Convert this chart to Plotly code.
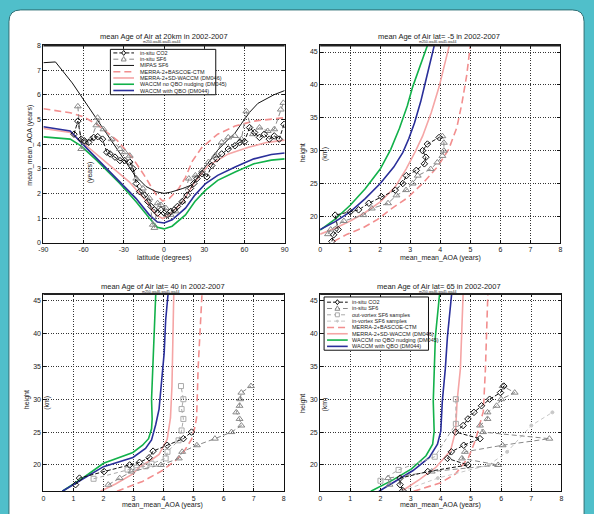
import plotly.graph_objects as go

W, H = 594, 514
FONT = "Liberation Sans, Arial, sans-serif"

# ---------------- Panel 1: mean AoA at 20 km vs latitude ----------------
lat_mipas = [-90, -81, -68.5, -60, -50, -40, -30, -22, -13.5, -6, 0, 5, 14, 21, 28, 34, 40, 48, 53, 58, 64, 70, 75, 82, 90]
age_mipas = [7.3, 7.33, 6.48, 5.8, 5.0, 4.2, 3.4, 2.75, 2.28, 2.07, 2.0, 2.05, 2.2, 2.35, 2.88, 3.3, 3.75, 4.2, 4.45, 4.85, 5.3, 5.65, 5.81, 6.0, 6.17]

lat_ctm = [-90, -70, -60, -50, -35, -23, -15, -6, -1, 4, 11, 16, 21, 28, 40, 53, 67, 78, 90]
age_ctm = [5.43, 5.27, 5.1, 4.8, 4.15, 3.4, 2.75, 1.95, 1.69, 1.8, 2.2, 2.65, 3.3, 3.85, 4.4, 4.73, 4.93, 5.0, 5.07]

lat_sdw = [-90, -70, -55, -40, -26, -13, -6, -1, 4, 14, 23, 33, 48, 63, 77, 90]
age_sdw = [4.63, 4.47, 3.8, 3.13, 2.47, 1.67, 1.13, 0.98, 1.13, 1.67, 2.47, 3.13, 3.6, 3.87, 4.07, 4.16]

lat_noqbo = [-90, -70, -62, -50, -33, -21, -11, -5, 0, 6, 16, 23, 31, 40, 53, 67, 80, 90]
age_noqbo = [4.29, 4.2, 3.93, 3.33, 2.4, 1.67, 1.0, 0.63, 0.56, 0.67, 1.13, 1.67, 2.13, 2.53, 2.87, 3.2, 3.35, 3.4]

lat_qbo = [-90, -70, -62, -50, -33, -21, -11, -5, 0, 6, 16, 23, 31, 40, 53, 67, 80, 90]
age_qbo = [4.7, 4.53, 4.07, 3.4, 2.47, 1.8, 1.13, 0.84, 0.8, 0.93, 1.4, 1.93, 2.4, 2.73, 3.07, 3.4, 3.58, 3.64]

lat_co2 = [-67.2, -64.3, -61.8, -59.4, -56.2, -52.5, -49.5, -45.9, -42.7, -40.3, -36.6, -32.9, -29.3, -25.6, -23.1,
           -20.7, -18.2, -14.6, -12.1, -9.7, -7.2, -4.8, -2.3, 0.1, 2.6, 5, 7.5, 10, 13.6, 17.3, 19.7, 22.2, 24.6,
           28.3, 32, 35.6, 39.3, 43, 47.9, 52.8, 56.5, 60, 63.8, 67.5, 71.2, 74.8, 78.5, 82.2, 85.9, 89.5]
age_co2 = [4.4, 4.93, 4.2, 4.13, 4.07, 4.27, 4.3, 4.2, 3.67, 3.6, 3.47, 3.33, 3.33, 3.27, 3.0,
           2.4, 2.07, 1.93, 1.67, 1.47, 1.33, 1.2, 1.33, 1.2, 1.13, 1.27, 1.33, 1.47, 1.67, 1.93, 2.2, 2.4, 2.6,
           2.8, 2.67, 3.13, 3.4, 3.6, 3.8, 3.93, 4.07, 4.1, 4.67, 4.47, 4.27, 4.4, 4.2, 4.33, 4.2, 4.8]

lat_sf6 = [-64.3, -61.8, -58.7, -54.5, -50.5, -49.6, -45.2, -39.1, -32.9, -29.3, -25.6, -20.7, -15.8, -10.9, -8.4,
           -7.2, -4.8, -2.3, 1.4, 5, 8.7, 13.6, 18.5, 23.4, 28.3, 33.2, 38.1, 43, 47.9, 52.8, 57.7, 61.4, 66.3,
           71.2, 77.3, 82.2, 87.1, 89]
age_sf6 = [5.53, 3.8, 4.07, 4.2, 4.76, 5.07, 4.6, 4.2, 3.8, 3.67, 3.53, 2.6, 2.2, 1.8, 0.73,
           0.6, 1.6, 1.53, 1.4, 1.13, 1.27, 1.67, 2.6, 2.73, 2.93, 3.27, 3.53, 4.07, 4.27, 4.33, 4.2, 5.33, 4.4,
           4.67, 4.53, 4.6, 5.4, 5.67]

# ---------------- Panel 2: profiles at lat = -5 ----------------
h2_co2 = [16.2, 17.2, 18, 20.2, 20.7, 21, 22, 23, 24, 25, 26.2, 27, 28, 29, 30, 31, 32]
a2_co2 = [0.39, 0.45, 0.6, 0.5, 1.0, 1.28, 1.62, 2.04, 2.5, 2.75, 2.87, 3.2, 3.47, 3.52, 3.41, 3.57, 3.96]
h2_sf6 = [17.3, 18, 19.3, 20.2, 21.2, 22, 23.2, 24, 25, 26.2, 27.2, 28.2, 29.2, 30, 31.2, 32.2]
a2_sf6 = [0.26, 0.35, 0.79, 1.44, 1.72, 2.26, 2.54, 2.86, 3.08, 3.25, 3.68, 3.9, 4.07, 4.12, 4.12, 4.07]
h2_noqbo = [17.9, 19.6, 21.7, 24.2, 27.2, 30.2, 33.4, 36.8, 39.7, 43.0, 46]
a2_noqbo = [0, 0.5, 1.0, 1.5, 2.0, 2.35, 2.64, 2.9, 3.08, 3.35, 3.57]
h2_qbo = [18, 19.2, 20.7, 22.7, 25, 27.5, 29.7, 31.8, 34.2, 37.5, 40.7, 43.8, 46]
a2_qbo = [0, 0.5, 1.0, 1.5, 2.0, 2.45, 2.75, 2.95, 3.14, 3.35, 3.52, 3.68, 3.8]
h2_sdw = [17.3, 18.2, 19.3, 20.6, 22.2, 24.5, 27.2, 29.7, 32.2, 35.8, 39.7, 43.0, 46]
a2_sdw = [0, 0.5, 1.0, 1.5, 2.0, 2.5, 2.86, 3.15, 3.41, 3.7, 3.96, 4.15, 4.3]
h2_ctm = [16.2, 17.3, 18.3, 19.5, 21, 22.8, 25, 27.5, 30.2, 33.5, 37.2, 41.5, 46]
a2_ctm = [0.45, 0.9, 1.44, 1.9, 2.32, 2.9, 3.41, 3.9, 4.28, 4.55, 4.72, 4.88, 5.0]

# ---------------- Panel 3: profiles at lat = 40 ----------------
h3_co2 = [17, 18, 19, 20, 20.4, 21.1, 22.1, 23, 24, 25]
a3_co2 = [1.07, 1.2, 2.02, 2.87, 3.2, 3.52, 3.65, 4.12, 4.66, 4.93]
h3_sf6 = [17, 18, 19, 20, 21, 22, 23, 24, 25, 26, 27, 28, 29, 30, 31, 32]
a3_sf6 = [2.16, 2.54, 2.93, 3.91, 4.51, 4.62, 5.11, 5.71, 6.26, 6.59, 6.53, 6.42, 6.53, 6.55, 6.59, 6.91]
h3_out = [17.9, 19.3, 19.6, 19.8, 20.2, 21, 22, 23.75, 25.25, 27, 28.5, 30, 32]
a3_out = [1.67, 2.8, 3.1, 3.4, 3.6, 4.07, 4.13, 4.5, 4.6, 4.66, 4.6, 4.66, 4.58]
h3_noqbo = [16, 18.1, 20.25, 21.9, 23, 24, 25.5, 27, 30, 34, 40, 46]
a3_noqbo = [0.63, 1.34, 2.0, 2.98, 3.3, 3.5, 3.6, 3.62, 3.6, 3.64, 3.69, 3.74]
h3_qbo = [16, 17.9, 19.75, 21.15, 22.5, 23.8, 26.15, 28.5, 33.5, 37, 42, 46]
a3_qbo = [0.63, 1.34, 2.0, 2.98, 3.4, 3.6, 3.74, 3.85, 3.96, 4.02, 4.07, 4.15]
h3_sdw = [16, 17.1, 18.65, 19.7, 20.8, 21.6, 23.9, 27.15, 32, 38, 46]
a3_sdw = [1.9, 2.4, 2.98, 3.2, 3.6, 3.85, 4.12, 4.23, 4.28, 4.3, 4.34]
h3_ctm = [16, 17.5, 19.15, 20.7, 21.9, 23.9, 25.5, 27.15, 34.65, 40, 46]
a3_ctm = [2.45, 3.3, 3.96, 4.4, 4.66, 4.93, 5.03, 5.1, 5.15, 5.2, 5.28]

# ---------------- Panel 4: profiles at lat = 65 ----------------
h4_co2 = [16.1, 17, 18, 19, 20, 21, 22, 23, 24, 25, 26, 27, 28, 29, 30, 31, 32]
a4_co2 = [2.74, 2.65, 2.65, 3.57, 4.9, 4.22, 4.35, 4.76, 5.3, 4.49, 4.74, 4.9, 5.1, 5.35, 5.62, 5.98, 6.09]
h4_sf6 = [17, 18, 19, 20, 21, 22, 23, 24, 25, 26, 27, 28, 29, 30, 31, 32]
a4_sf6 = [2.3, 2.25, 3.7, 5.9, 4.7, 4.8, 6.05, 7.6, 5.4, 5.3, 5.55, 5.55, 5.85, 6.0, 6.45, 6.05]
h4_out = [17.6, 19.25, 21.25, 26.25, 30]
a4_out = [2.0, 2.6, 3.8, 4.5, 4.5]
h4_in = [16, 18, 20, 22, 26, 28]
a4_in = [2.7, 3.9, 5.6, 6.2, 7.0, 7.7]
h4_noqbo = [16, 17.7, 19.4, 21.4, 23.15, 25.15, 29.65, 34.65, 39.5, 46]
a4_noqbo = [1.68, 2.4, 3.03, 3.51, 3.73, 3.78, 3.75, 3.78, 3.82, 3.96]
h4_qbo = [16, 19.15, 21.15, 23.15, 25.15, 29.65, 34.65, 39.5, 46]
a4_qbo = [1.95, 3.08, 3.62, 3.89, 4.0, 4.05, 4.15, 4.22, 4.36]
h4_sdw = [16, 17.8, 19.65, 22.15, 25.15, 29.65, 34.65, 40, 46]
a4_sdw = [2.7, 3.3, 3.84, 4.32, 4.49, 4.54, 4.65, 4.7, 4.74]
h4_ctm = [16, 17.3, 18.65, 21.15, 23.65, 28.15, 34.65, 40, 46]
a4_ctm = [3.1, 4.0, 4.49, 4.92, 5.14, 5.41, 5.48, 5.52, 5.56]

# ---------------- text ----------------
titles = ["mean Age of Air at 20km in 2002-2007", "mean Age of Air lat= -5 in 2002-2007",
          "mean Age of Air lat= 40 in 2002-2007", "mean Age of Air lat= 65 in 2002-2007"]
subtitle = "m250-wa46-wa45-wa44"
lat_ticks = [-90, -60, -30, 0, 30, 60, 90]
lat_ticktext = ["-90", "-60", "-30", "0", "30", "60", "90"]
age_ticks = [0, 1, 2, 3, 4, 5, 6, 7, 8]
h_ticks = [20, 25, 30, 35, 40, 45]
legend1_keys = ["co2", "sf6", "mipas", "ctm", "sdw", "noqbo", "qbo"]
legend4_keys = ["co2", "sf6", "out", "in", "ctm", "sdw", "noqbo", "qbo"]
labels = {"co2": "in-situ CO2", "sf6": "in-situ SF6", "mipas": "MIPAS SF6",
          "out": "out-vortex SF6 samples", "in": "in-vortex SF6 samples",
          "ctm": "MERRA-2+BASCOE-CTM", "sdw": "MERRA-2+SD-WACCM (DM046)",
          "noqbo": "WACCM no QBO nudging (DM045)", "qbo": "WACCM with QBO (DM044)"}

# ---------------- styles ----------------
PINK_D = "#F28E8E"
PINK_S = "#F5A5A5"
GREEN = "#12B14A"
BLUE = "#2A2F9A"
styles = {
    "co2": dict(color="#111111", dash="4px,2px", width=1, symbol="diamond-open", msize=5),
    "sf6": dict(color="#888888", dash="5px,3px", width=1, symbol="triangle-up-open", msize=6),
    "mipas": dict(color="#111111", dash="solid", width=1, symbol=None, msize=0),
    "out": dict(color="#AAAAAA", dash="4px,3px", width=1, symbol="square-open", msize=5),
    "in": dict(color="#C8C8C8", dash="4px,3px", width=1, symbol="circle", msize=3),
    "ctm": dict(color=PINK_D, dash="7px,4px", width=1.6, symbol=None, msize=0),
    "sdw": dict(color=PINK_S, dash="solid", width=1.6, symbol=None, msize=0),
    "noqbo": dict(color=GREEN, dash="solid", width=1.6, symbol=None, msize=0),
    "qbo": dict(color=BLUE, dash="solid", width=1.6, symbol=None, msize=0),
}


def px2x(px):
    return px / W


def px2y(py):
    return 1 - py / H


fig = go.Figure()


def add(key, x, y, ax):
    s = styles[key]
    mode = "lines+markers" if s["symbol"] else "lines"
    kw = dict(x=x, y=y, mode=mode, showlegend=False, name=labels[key],
              line=dict(color=s["color"], dash=s["dash"], width=s["width"]),
              xaxis="x" + ax, yaxis="y" + ax)
    if s["symbol"]:
        kw["marker"] = dict(symbol=s["symbol"], size=s["msize"], color=s["color"],
                            line=dict(color=s["color"], width=1))
    fig.add_trace(go.Scatter(**kw))


# panel 1 (models first, observations on top)
add("ctm", lat_ctm, age_ctm, "")
add("sdw", lat_sdw, age_sdw, "")
add("noqbo", lat_noqbo, age_noqbo, "")
add("qbo", lat_qbo, age_qbo, "")
add("mipas", lat_mipas, age_mipas, "")
add("sf6", lat_sf6, age_sf6, "")
add("co2", lat_co2, age_co2, "")
# panel 2
add("ctm", a2_ctm, h2_ctm, "2")
add("sdw", a2_sdw, h2_sdw, "2")
add("noqbo", a2_noqbo, h2_noqbo, "2")
add("qbo", a2_qbo, h2_qbo, "2")
add("sf6", a2_sf6, h2_sf6, "2")
add("co2", a2_co2, h2_co2, "2")
# panel 3
add("ctm", a3_ctm, h3_ctm, "3")
add("sdw", a3_sdw, h3_sdw, "3")
add("noqbo", a3_noqbo, h3_noqbo, "3")
add("qbo", a3_qbo, h3_qbo, "3")
add("out", a3_out, h3_out, "3")
add("sf6", a3_sf6, h3_sf6, "3")
add("co2", a3_co2, h3_co2, "3")
# panel 4
add("ctm", a4_ctm, h4_ctm, "4")
add("sdw", a4_sdw, h4_sdw, "4")
add("noqbo", a4_noqbo, h4_noqbo, "4")
add("qbo", a4_qbo, h4_qbo, "4")
add("in", a4_in, h4_in, "4")
add("out", a4_out, h4_out, "4")
add("sf6", a4_sf6, h4_sf6, "4")
add("co2", a4_co2, h4_co2, "4")

# ---------------- axes ----------------
panels = {
    "": dict(x=(39, 284), y=(42, 242)),
    "2": dict(x=(320, 564), y=(42, 242)),
    "3": dict(x=(39, 283), y=(294, 494)),
    "4": dict(x=(320, 565), y=(294, 494)),
}
common = dict(showline=True, linecolor="#111111", linewidth=1, mirror="ticks",
              ticks="inside", ticklen=3, tickcolor="#111111",
              showgrid=True, gridcolor="#333333", gridwidth=1, griddash="1px,1.5px",
              zeroline=False, tickfont=dict(family=FONT, size=7, color="#222222"))
lay = {}
for key, p in panels.items():
    xd = [px2x(p["x"][0]), px2x(p["x"][1])]
    yd = [px2y(p["y"][1]), px2y(p["y"][0])]
    xa = dict(domain=xd, anchor="y" + key, **common)
    ya = dict(domain=yd, anchor="x" + key, **common)
    if key == "":
        xa.update(range=[-90, 90], tickvals=lat_ticks, ticktext=lat_ticktext)
        ya.update(range=[0, 8], tickvals=age_ticks)
    else:
        xa.update(range=[0, 8], tickvals=age_ticks)
        ya.update(range=[16, 46], tickvals=h_ticks)
    lay["xaxis" + key] = xa
    lay["yaxis" + key] = ya

# ---------------- frame and text ----------------
shapes = []
r = 12
x0, x1, y0 = 4, 588, 6
path = (f"M {px2x(x0)},{px2y(H + 5)} L {px2x(x0)},{px2y(y0 + r)} "
        f"Q {px2x(x0)},{px2y(y0)} {px2x(x0 + r)},{px2y(y0)} "
        f"L {px2x(x1 - r)},{px2y(y0)} Q {px2x(x1)},{px2y(y0)} {px2x(x1)},{px2y(y0 + r)} "
        f"L {px2x(x1)},{px2y(H + 5)} Z")
shapes.append(dict(type="path", path=path, xref="paper", yref="paper", layer="below",
                   fillcolor="white", line=dict(color="#2E6E74", width=1)))

# slightly heavier top frame lines, as in the reference
for key, p in panels.items():
    shapes.append(dict(type="line", xref="paper", yref="paper", layer="above",
                       x0=px2x(p["x"][0]), x1=px2x(p["x"][1]),
                       y0=px2y(p["y"][0]), y1=px2y(p["y"][0]),
                       line=dict(color="#222222", width=2)))

ann = []


def text(t, x, y, size=7, angle=0, color="#222222"):
    ann.append(dict(text=t, x=px2x(x), y=px2y(y), xref="paper", yref="paper",
                    showarrow=False, textangle=angle, xanchor="center", yanchor="middle",
                    font=dict(family=FONT, size=size, color=color)))


title_pos = [(161, 33), (441, 33), (160, 286), (441, 286)]
for t, (tx, ty) in zip(titles, title_pos):
    text(t, tx, ty, size=7.5)
    text(subtitle, tx - 2, ty + 6, size=3.5)

text("latitude (degrees)", 161, 257)
text("mean_mean_AOA (years)", 442, 257)
text("mean_mean_AOA (years)", 160, 508)
text("mean_mean_AOA (years)", 442, 508)
text("mean_mean_AOA (years)", 25, 143, angle=-90)
text("(years)", 86, 171, angle=-90)
text("height", 303, 151, angle=-90)
text("(km)", 325, 152, angle=-90)
text("height", 22, 401, angle=-90)
text("(km)", 43, 404, angle=-90)
text("height", 303, 405, angle=-90)
text("(km)", 325, 406, angle=-90)


def legend(keys, box, row0, step, samp, txt_x):
    bx0, by0, bx1, by1 = box
    shapes.append(dict(type="rect", xref="paper", yref="paper", layer="above",
                       x0=px2x(bx0), x1=px2x(bx1), y0=px2y(by1), y1=px2y(by0),
                       fillcolor="white", line=dict(color="#111111", width=1)))
    for i, k in enumerate(keys):
        s = styles[k]
        cy = row0 + i * step
        shapes.append(dict(type="line", xref="paper", yref="paper", layer="above",
                           x0=px2x(samp[0]), x1=px2x(samp[1]), y0=px2y(cy), y1=px2y(cy),
                           line=dict(color=s["color"], width=s["width"], dash=s["dash"])))
        cx = (samp[0] + samp[1]) / 2
        m = s["symbol"]
        if m == "diamond-open":
            p = f"M {px2x(cx)},{px2y(cy - 2.5)} L {px2x(cx + 2)},{px2y(cy)} L {px2x(cx)},{px2y(cy + 2.5)} L {px2x(cx - 2)},{px2y(cy)} Z"
        elif m == "triangle-up-open":
            p = f"M {px2x(cx)},{px2y(cy - 2.7)} L {px2x(cx + 2.5)},{px2y(cy + 1.8)} L {px2x(cx - 2.5)},{px2y(cy + 1.8)} Z"
        elif m == "square-open":
            p = f"M {px2x(cx - 2)},{px2y(cy - 2)} L {px2x(cx + 2)},{px2y(cy - 2)} L {px2x(cx + 2)},{px2y(cy + 2)} L {px2x(cx - 2)},{px2y(cy + 2)} Z"
        elif m == "circle":
            p = f"M {px2x(cx - 1.3)},{px2y(cy)} L {px2x(cx)},{px2y(cy - 1.3)} L {px2x(cx + 1.3)},{px2y(cy)} L {px2x(cx)},{px2y(cy + 1.3)} Z"
        else:
            p = None
        if p:
            shapes.append(dict(type="path", path=p, xref="paper", yref="paper", layer="above",
                               fillcolor="white" if m != "circle" else s["color"],
                               line=dict(color=s["color"], width=1)))
        ann.append(dict(text=labels[k], x=px2x(txt_x), y=px2y(cy), xref="paper", yref="paper",
                        showarrow=False, xanchor="left", yanchor="middle",
                        font=dict(family=FONT, size=5.5, color="#222222")))


legend(legend1_keys, (107, 46, 214, 92), 49.6, 6.35, (110, 131), 135)
legend(legend4_keys, (324, 297, 430, 351), 302.3, 6.4, (327, 348), 350)

fig.update_layout(width=W, height=H, margin=dict(l=0, r=0, t=0, b=0),
                  paper_bgcolor="#50BFCA", plot_bgcolor="white",
                  shapes=shapes, annotations=ann, showlegend=False,
                  font=dict(family=FONT), **lay)

fig.write_html("out.html", config={"displayModeBar": False},
               post_script="document.body.style.margin='0';document.body.style.overflow='hidden';")
